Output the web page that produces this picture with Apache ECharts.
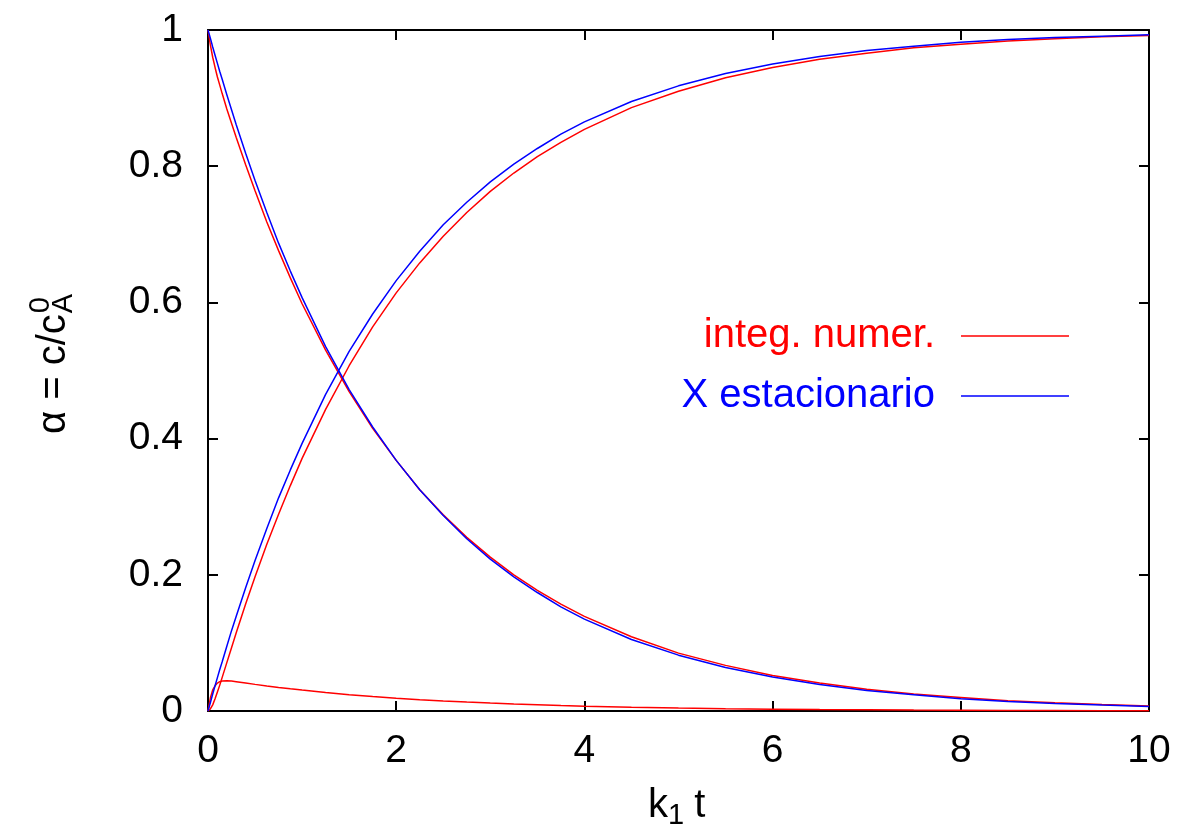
<!DOCTYPE html>
<html>
<head>
<meta charset="utf-8">
<script src="https://cdn.jsdelivr.net/npm/echarts@6/dist/echarts.min.js"></script>
<style>
  html, body { margin: 0; padding: 0; background: #ffffff; }
  #chart { width: 1186px; height: 834px; }
</style>
</head>
<body>
<div id="chart"></div>
<script>
// Reduced time k1·t
const times = [0, 0.025, 0.05, 0.075, 0.1, 0.125, 0.15, 0.2, 0.25, 0.3, 0.4, 0.5, 0.625, 0.75, 0.875,
               1, 1.25, 1.5, 1.75, 2, 2.25, 2.5, 2.75, 3, 3.25, 3.5, 3.75, 4, 4.5, 5, 5.5, 6, 6.5,
               7, 7.5, 8, 8.5, 9, 9.5, 10];

// Numerical integration: reactant A, intermediate B, product C
const numA = [1, 0.978, 0.960, 0.945, 0.931, 0.919, 0.907, 0.884, 0.863, 0.842, 0.802, 0.764, 0.718,
              0.676, 0.636, 0.598, 0.530, 0.469, 0.415, 0.368, 0.325, 0.288, 0.255, 0.226, 0.200,
              0.177, 0.157, 0.139, 0.109, 0.085, 0.067, 0.052, 0.041, 0.032, 0.025, 0.020, 0.015,
              0.012, 0.0095, 0.0074];
const numB = [0, 0.019, 0.031, 0.037, 0.041, 0.043, 0.044, 0.0445, 0.0439, 0.0430, 0.0411, 0.0391,
              0.0368, 0.0346, 0.0326, 0.0307, 0.0272, 0.0240, 0.0213, 0.0188, 0.0167, 0.0148, 0.0131,
              0.0116, 0.0102, 0.0091, 0.0080, 0.0071, 0.0056, 0.0044, 0.0034, 0.0027, 0.0021, 0.0017,
              0.0013, 0.0010, 0.0008, 0.0006, 0.0005, 0.0004];
const numC = [0, 0.003, 0.009, 0.018, 0.028, 0.038, 0.049, 0.071, 0.093, 0.115, 0.157, 0.197, 0.245,
              0.289, 0.331, 0.371, 0.443, 0.507, 0.564, 0.614, 0.658, 0.697, 0.732, 0.763, 0.790,
              0.814, 0.835, 0.854, 0.886, 0.910, 0.930, 0.945, 0.957, 0.966, 0.974, 0.979, 0.984,
              0.987, 0.990, 0.992];

// Steady-state approximation: A and C
const ssA = [1, 0.988, 0.975, 0.963, 0.951, 0.939, 0.928, 0.905, 0.883, 0.861, 0.819, 0.779, 0.732,
             0.687, 0.646, 0.607, 0.535, 0.472, 0.417, 0.368, 0.325, 0.287, 0.253, 0.223, 0.197,
             0.174, 0.153, 0.135, 0.105, 0.082, 0.064, 0.050, 0.039, 0.030, 0.024, 0.018, 0.014,
             0.011, 0.0087, 0.0067];
const ssC = [0, 0.012, 0.025, 0.037, 0.049, 0.061, 0.072, 0.095, 0.118, 0.139, 0.181, 0.221, 0.268,
             0.313, 0.354, 0.393, 0.465, 0.528, 0.583, 0.632, 0.675, 0.714, 0.747, 0.777, 0.803,
             0.826, 0.847, 0.865, 0.895, 0.918, 0.936, 0.950, 0.961, 0.970, 0.976, 0.982, 0.986,
             0.989, 0.991, 0.993];

const xTicks = { min: 0, max: 10, interval: 2 };
const yTicks = { min: 0, max: 1, interval: 0.2 };

const RED = '#ff0000';
const BLUE = '#0000ff';
const FONT = 'Liberation Sans, Arial, sans-serif';
const NAME_NUM = 'integ. numer.';
const NAME_SS = 'X estacionario';

const pairs = (ys) => times.map((t, i) => [t, ys[i]]);

const chart = echarts.init(document.getElementById('chart'), null, { renderer: 'canvas' });

const LABEL_SIZE = 39;
const axisLine = { show: true, onZero: false, lineStyle: { color: '#000', width: 2 } };
const tickIn = { show: true, inside: true, length: 10, lineStyle: { color: '#000', width: 2 } };
const tickLabel = { color: '#000', fontSize: LABEL_SIZE, fontFamily: FONT };

function lineSeries(name, ys, color) {
  return {
    type: 'line', name: name, data: pairs(ys), showSymbol: false, symbol: 'none',
    smooth: false, animation: false,
    lineStyle: { color: color, width: 1.5 }, itemStyle: { color: color }
  };
}

// Measure text widths for the composite axis titles
const ctx = document.createElement('canvas').getContext('2d');
const TITLE_SIZE = 40, SUB_SIZE = 29;
ctx.font = TITLE_SIZE + 'px ' + FONT;
const yMainW = ctx.measureText('\u03b1 = c/c').width;
const kW = ctx.measureText('k').width;
ctx.font = SUB_SIZE + 'px ' + FONT;
const oneW = ctx.measureText('1').width;

chart.setOption({
  backgroundColor: '#ffffff',
  animation: false,
  grid: { left: 208, top: 30, width: 941, height: 681, containLabel: false },
  xAxis: [
    Object.assign({ type: 'value', position: 'bottom', axisLine: axisLine, axisTick: tickIn,
      axisLabel: Object.assign({ margin: 21 }, tickLabel), splitLine: { show: false } }, xTicks),
    Object.assign({ type: 'value', position: 'top', axisLine: axisLine, axisTick: tickIn,
      axisLabel: { show: false }, splitLine: { show: false } }, xTicks)
  ],
  yAxis: [
    Object.assign({ type: 'value', position: 'left', axisLine: axisLine, axisTick: tickIn,
      axisLabel: Object.assign({ margin: 25 }, tickLabel), splitLine: { show: false } }, yTicks),
    Object.assign({ type: 'value', position: 'right', axisLine: axisLine, axisTick: tickIn,
      axisLabel: { show: false }, splitLine: { show: false } }, yTicks)
  ],
  legend: {
    orient: 'vertical', right: 117, top: 316, padding: 0, align: 'right',
    icon: 'rect', itemWidth: 108, itemHeight: 1.5, itemGap: 20,
    selectedMode: false,
    textStyle: { fontSize: 40, fontFamily: FONT, lineHeight: 40, padding: [0, 21, 0, 0] },
    data: [
      { name: NAME_NUM, textStyle: { color: RED } },
      { name: NAME_SS, textStyle: { color: BLUE } }
    ]
  },
  graphic: [
    {
      // y-axis title: α = c/c with subscript A and superscript 0, reading bottom to top
      type: 'group', x: 54, y: 434, rotation: Math.PI / 2, silent: true,
      children: [
        { type: 'text', x: 0, y: 0,
          style: { text: '\u03b1 = c/c', font: TITLE_SIZE + 'px ' + FONT, fill: '#000',
                   textAlign: 'left', textVerticalAlign: 'middle' } },
        { type: 'text', x: yMainW + 1, y: 10,
          style: { text: 'A', font: SUB_SIZE + 'px ' + FONT, fill: '#000',
                   textAlign: 'left', textVerticalAlign: 'middle' } },
        { type: 'text', x: yMainW + 1, y: -13,
          style: { text: '0', font: SUB_SIZE + 'px ' + FONT, fill: '#000',
                   textAlign: 'left', textVerticalAlign: 'middle' } }
      ]
    },
    {
      // x-axis title: k with subscript 1, then t
      type: 'group', x: 648, y: 806, silent: true,
      children: [
        { type: 'text', x: 0, y: 0,
          style: { text: 'k', font: TITLE_SIZE + 'px ' + FONT, fill: '#000',
                   textAlign: 'left', textVerticalAlign: 'middle' } },
        { type: 'text', x: kW, y: 10,
          style: { text: '1', font: SUB_SIZE + 'px ' + FONT, fill: '#000',
                   textAlign: 'left', textVerticalAlign: 'middle' } },
        { type: 'text', x: kW + oneW + 10, y: 0,
          style: { text: 't', font: TITLE_SIZE + 'px ' + FONT, fill: '#000',
                   textAlign: 'left', textVerticalAlign: 'middle' } }
      ]
    }
  ],
  series: [
    lineSeries(NAME_NUM, numA, RED),
    lineSeries(NAME_NUM, numB, RED),
    lineSeries(NAME_NUM, numC, RED),
    lineSeries(NAME_SS, ssA, BLUE),
    lineSeries(NAME_SS, ssC, BLUE)
  ]
});
</script>
</body>
</html>
